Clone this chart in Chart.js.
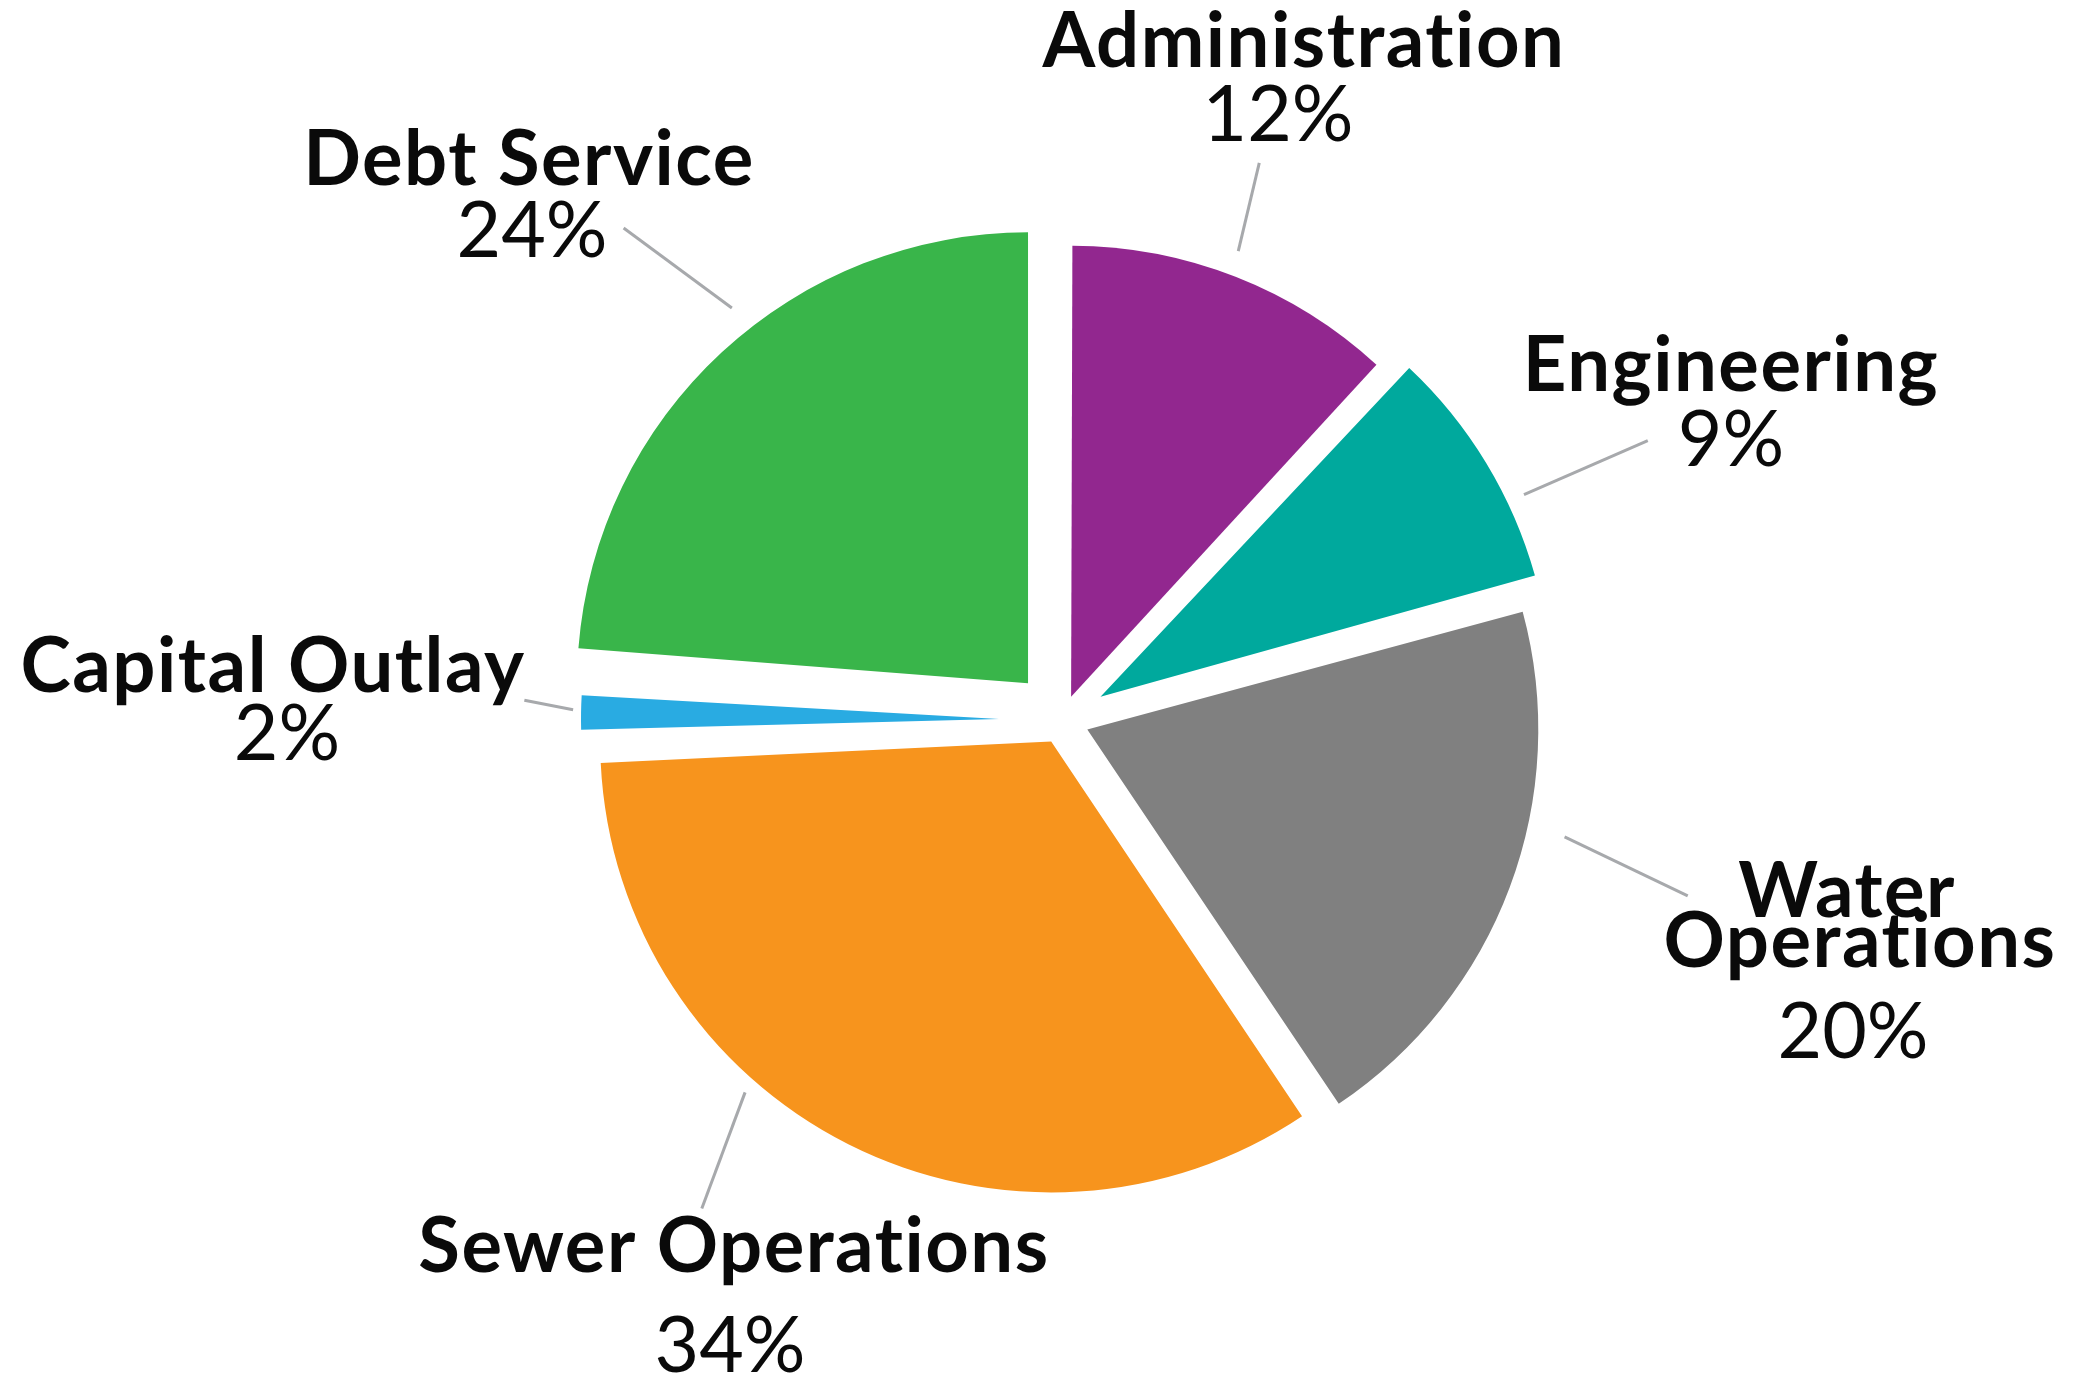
<!DOCTYPE html>
<html>
<head>
<meta charset="utf-8">
<script src="https://cdn.jsdelivr.net/npm/chart.js@4.4.1/dist/chart.umd.min.js"></script>
<style>
  html, body { margin: 0; padding: 0; background: #ffffff; }
</style>
</head>
<body>
<canvas id="budgetPie" width="2100" height="1378"></canvas>
<script>
const categories = ["Administration", "Engineering", "Water Operations", "Sewer Operations", "Capital Outlay", "Debt Service"];
const shares = [12, 9, 20, 34, 2, 24];

const sliceColors = ["#92278f", "#00a99d", "#808080", "#f7941d", "#29abe2", "#39b54a"];
// how far each wedge is pulled away from the centre (px)
const pullOut = [25, 45, 27, 24, 63, 50];
const wedgeRadius = [451, 451, 451, 451, 418, 451];

// label lines, their centre x / baseline y
const nameLines = [["Administration"], ["Engineering"], ["Water", "Operations"], ["Sewer Operations"], ["Capital Outlay"], ["Debt Service"]];
const namePos = [
    [[1304, 67]],
    [[1731, 391]],
    [[1847, 917], [1860, 967]],
    [[734, 1272]],
    [[273, 692]],
    [[529, 185]]
];
const pctPos = [[1278, 141], [1731, 466], [1853, 1058], [730, 1372], [287, 760], [532, 257]];
// leader lines: [angle deg from 12 o'clock, radius] for both ends, around the pie centre
const leaders = [
    [20.6, 501, 19.5, 591],
    [64.0, 514, 64.5, 649],
    [103.1, 516, 105.7, 650],
    [220.4, 489, 216.4, 607],
    [271.2, 489, 272.1, 538],
    [321.3, 528, 318.3, 659]
];

// Chart.js grows an offset arc's radius a little; undo that so each wedge keeps its own radius
const fixedRadius = {
    id: "fixedRadius",
    afterDatasetUpdate(chart, args) {
        args.meta.data.forEach((arc, i) => {
            const shift = pullOut[i];
            const fix = 1 - Math.sin(Math.min(Math.PI, arc.circumference));
            arc.outerRadius = wedgeRadius[i] - shift * fix;
        });
    }
};

// keep Lato from swapping "ti" for its ligature glyph
const noLigature = s => s.replace(/ti/g, "t\u200Ci");

const calloutLabels = {
    id: "calloutLabels",
    afterDraw(chart) {
        const ctx = chart.ctx;
        const first = chart.getDatasetMeta(0).data[0];
        const cx = first.x;
        const cy = first.y;
        const polar = (deg, r) => {
            const a = deg * Math.PI / 180;
            return [cx + r * Math.sin(a), cy - r * Math.cos(a)];
        };

        ctx.save();
        ctx.strokeStyle = "#a7a9ac";
        ctx.lineWidth = 3;
        leaders.forEach(([a1, r1, a2, r2]) => {
            const p = polar(a1, r1);
            const q = polar(a2, r2);
            ctx.beginPath();
            ctx.moveTo(p[0], p[1]);
            ctx.lineTo(q[0], q[1]);
            ctx.stroke();
        });

        ctx.fillStyle = "#0a0a0a";
        ctx.textAlign = "center";
        ctx.textBaseline = "alphabetic";
        categories.forEach((name, i) => {
            ctx.font = "700 76px Lato";
            ctx.letterSpacing = "1.5px";
            nameLines[i].forEach((line, j) => {
                ctx.fillText(noLigature(line), namePos[i][j][0], namePos[i][j][1]);
            });
            ctx.font = "400 77px Lato";
            ctx.letterSpacing = "0px";
            ctx.fillText(shares[i] + "%", pctPos[i][0], pctPos[i][1]);
        });
        ctx.restore();
    }
};

new Chart(document.getElementById("budgetPie"), {
    type: "pie",
    data: {
        labels: categories,
        datasets: [
            {
                data: shares,
                backgroundColor: sliceColors,
                borderWidth: 0,
                offset: pullOut.map(p => p * 4)
            }
        ]
    },
    options: {
        responsive: false,
        animation: false,
        devicePixelRatio: 1,
        radius: 451,
        layout: {
            padding: { left: 24, top: 62, right: 0, bottom: 0 }
        },
        plugins: {
            legend: { display: false },
            tooltip: { enabled: false }
        }
    },
    plugins: [fixedRadius, calloutLabels]
});
</script>
</body>
</html>
